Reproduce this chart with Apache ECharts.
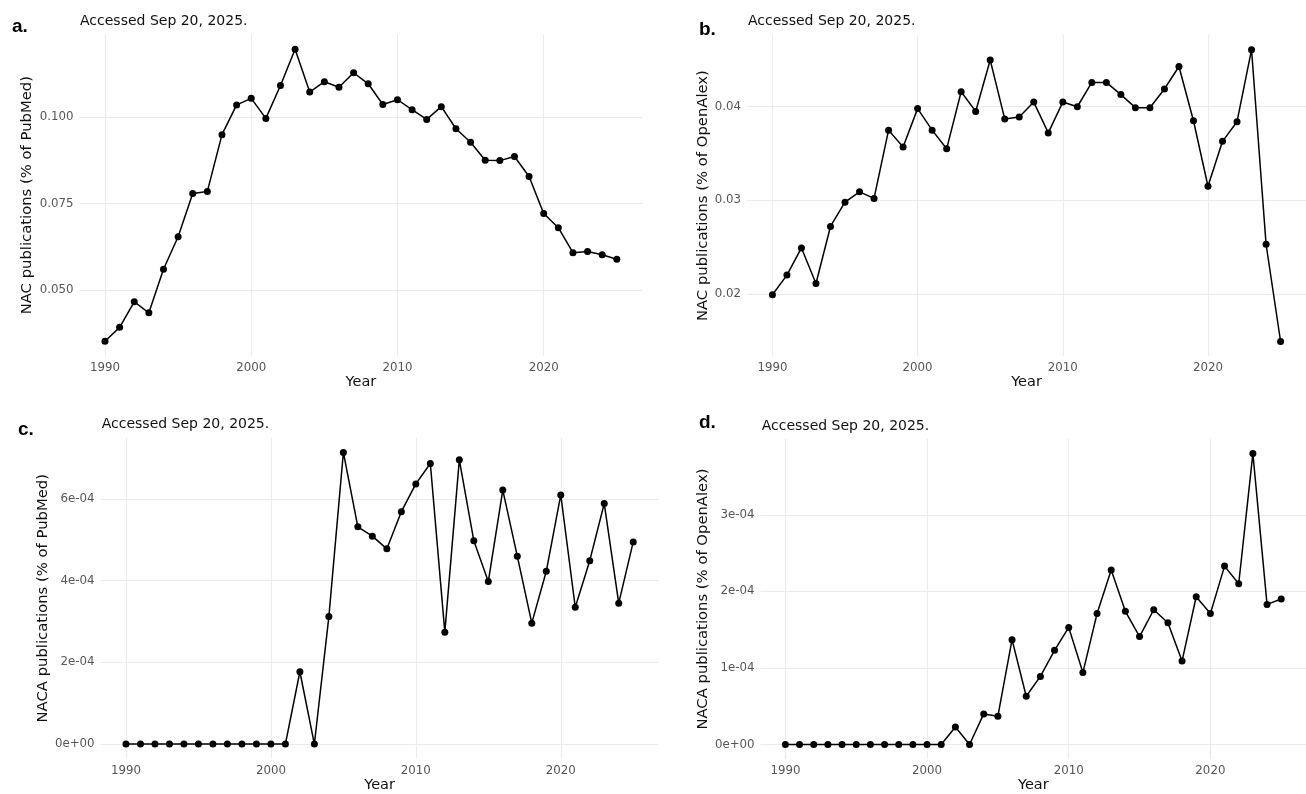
<!DOCTYPE html>
<html><head><meta charset="utf-8">
<script src="https://cdn.jsdelivr.net/npm/echarts@6/dist/echarts.min.js"></script>
<style>html,body{margin:0;padding:0;background:#fff;}#c{width:1306px;height:794px;}</style>
</head><body><div id="c"></div>
<script>
// ---- data ----
const years = [1990,1991,1992,1993,1994,1995,1996,1997,1998,1999,
               2000,2001,2002,2003,2004,2005,2006,2007,2008,2009,
               2010,2011,2012,2013,2014,2015,2016,2017,2018,2019,
               2020,2021,2022,2023,2024,2025];
const nacPubMed = [0.0352,0.0392,0.0466,0.0434,0.0560,0.0654,0.0779,0.0785,0.0949,0.1035,
                   0.1054,0.0996,0.1091,0.1196,0.1072,0.1102,0.1086,0.1128,0.1096,0.1036,
                   0.1050,0.1021,0.0993,0.1030,0.0966,0.0927,0.0875,0.0874,0.0886,0.0828,
                   0.0721,0.0680,0.0608,0.0611,0.0602,0.0589];
const nacOpenAlex = [0.0199,0.0220,0.0249,0.0211,0.0272,0.0298,0.0309,0.0302,0.0375,0.0357,
                     0.0398,0.0375,0.0355,0.0416,0.0395,0.0450,0.0387,0.0389,0.0405,0.0372,
                     0.0405,0.0400,0.0426,0.0426,0.0413,0.0399,0.0399,0.0419,0.0443,0.0385,
                     0.0315,0.0363,0.0384,0.0461,0.0253,0.0149];
const nacaPubMed = [0,0,0,0,0,0,0,0,0,0,
                    0,0,1.77e-4,0,3.12e-4,7.14e-4,5.32e-4,5.09e-4,4.78e-4,5.69e-4,
                    6.37e-4,6.87e-4,2.74e-4,6.96e-4,4.98e-4,3.98e-4,6.22e-4,4.60e-4,2.96e-4,4.23e-4,
                    6.10e-4,3.35e-4,4.49e-4,5.89e-4,3.45e-4,4.95e-4];
const nacaOpenAlex = [0,0,0,0,0,0,0,0,0,0,
                      0,0,0.23e-4,0,0.40e-4,0.37e-4,1.37e-4,0.63e-4,0.89e-4,1.23e-4,
                      1.53e-4,0.94e-4,1.71e-4,2.28e-4,1.74e-4,1.41e-4,1.76e-4,1.59e-4,1.09e-4,1.93e-4,
                      1.71e-4,2.33e-4,2.10e-4,3.80e-4,1.83e-4,1.90e-4];
const xTicks = [1990,2000,2010,2020];
const ticksA = [0.05,0.075,0.1];
const ticksB = [0.02,0.03,0.04];
const ticksC = [0,2e-4,4e-4,6e-4];
const ticksD = [0,1e-4,2e-4,3e-4];
const panelLetters = ['a.','b.','c.','d.'];
const subtitle = 'Accessed Sep 20, 2025.';
const yTitles = ['NAC publications (% of PubMed)','NAC publications (% of OpenAlex)',
                 'NACA publications (% of PubMed)','NACA publications (% of OpenAlex)'];
const xTitle = 'Year';

// ---- layout ----
const grids = [
  {left:79.4, top:34.6, width:563, height:321.2},
  {left:747, top:35.1, width:571, height:321},
  {left:100.6, top:437.9, width:558, height:320.7},
  {left:760.6, top:439, width:558, height:320.6}
];
const yNameGap = [44.6, 36.6, 50, 50];
const letterPos = [[12,28.5],[699,31],[18,431.5],[699,424.5]];
const subPos = [[80,20],[748,20],[101.7,423],[761.7,425]];

const fmt3 = v => v.toFixed(3);
const fmt2 = v => v.toFixed(2);
const fmtSci = v => v.toExponential(0).replace(/e([+-])(\d)$/, 'e$10$2');

const seriesData = [nacPubMed, nacOpenAlex, nacaPubMed, nacaOpenAlex];
const yTicks = [ticksA, ticksB, ticksC, ticksD];
const yFmts = [fmt3, fmt2, fmtSci, fmtSci];

function expand(arr){ const mn=Math.min(...arr), mx=Math.max(...arr), r=mx-mn; return [mn-0.05*r, mx+0.05*r]; }
const xr = expand(years);

const gridColor = '#ebebeb';
const tickFont = {fontFamily:'DejaVu Sans', fontSize:11.8, color:'#555'};
const titleFont = {fontFamily:'DejaVu Sans', fontSize:14.8, color:'#111'};

const option = {
  backgroundColor:'#fff',
  animation:false,
  grid: grids.map(g => Object.assign({containLabel:false}, g)),
  xAxis: grids.map((g,i) => ({
    type:'value', gridIndex:i, min:xr[0], max:xr[1],
    axisLine:{show:false}, axisTick:{show:false, customValues:xTicks},
    axisLabel:Object.assign({customValues:xTicks, margin:6, formatter:v=>String(v)}, tickFont),
    splitLine:{show:true, lineStyle:{color:gridColor, width:1.1}},
    name:xTitle, nameLocation:'middle', nameGap:18.5,
    nameTextStyle:Object.assign({}, titleFont, {fontSize:14.5})
  })),
  yAxis: grids.map((g,i) => {
    const r = expand(seriesData[i]);
    return {
      type:'value', gridIndex:i, min:r[0], max:r[1],
      axisLine:{show:false}, axisTick:{show:false, customValues:yTicks[i]},
      axisLabel:Object.assign({customValues:yTicks[i], margin:6, formatter:yFmts[i]}, tickFont),
      splitLine:{show:true, lineStyle:{color:gridColor, width:1.1}},
      name:yTitles[i], nameLocation:'middle', nameRotate:90, nameGap:yNameGap[i],
      nameTextStyle:titleFont
    };
  }),
  series: seriesData.map((arr,i) => ({
    type:'line', xAxisIndex:i, yAxisIndex:i,
    data: years.map((y,k)=>[y, arr[k]]),
    symbol:'circle', symbolSize:7, showAllSymbol:true, clip:false,
    lineStyle:{color:'#000', width:1.5},
    itemStyle:{color:'#000'}
  })),
  graphic: [].concat(
    panelLetters.map((t,i)=>({type:'text', left:letterPos[i][0], top:letterPos[i][1]-11,
      style:{text:t, font:'bold 19px "Liberation Sans", Arial, sans-serif', fill:'#000'}})),
    panelLetters.map((t,i)=>({type:'text', left:subPos[i][0], top:subPos[i][1]-6,
      style:{text:subtitle, font:'14px "DejaVu Sans"', fill:'#111'}}))
  )
};
const chart = echarts.init(document.getElementById('c'), null, {renderer:'canvas'});
chart.setOption(option);
</script>
</body></html>
